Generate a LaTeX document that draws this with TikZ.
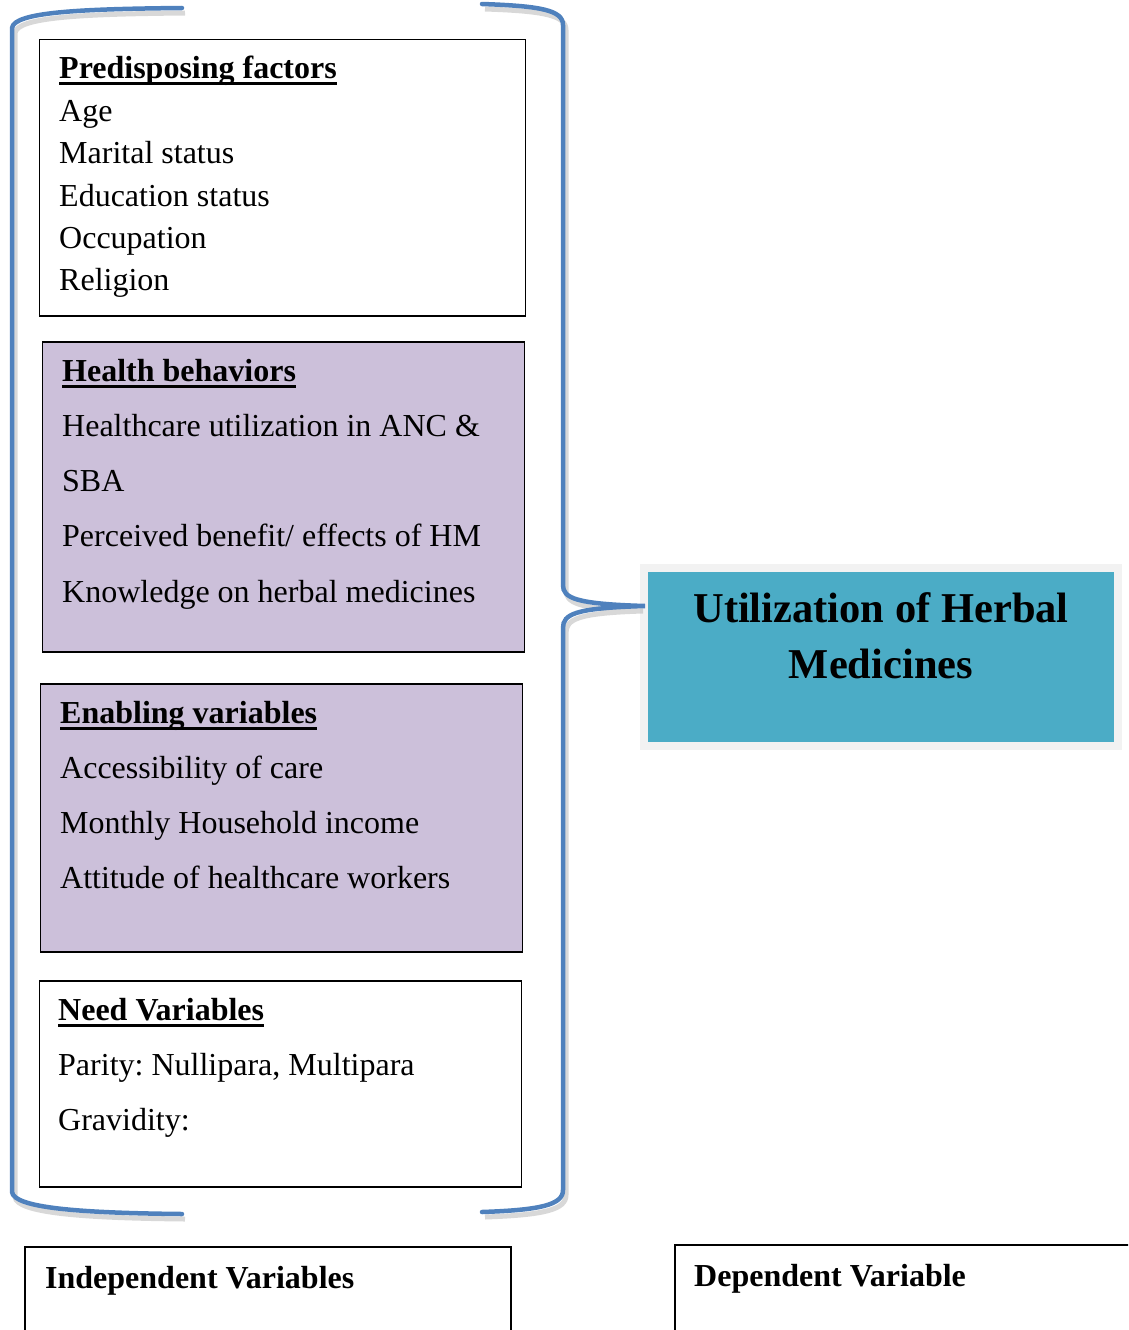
\documentclass[tikz,border=0pt]{standalone}
\usepackage{fontspec}
\setmainfont{Liberation Serif}
\frenchspacing
\definecolor{bracecol}{HTML}{4F81BD}
\definecolor{lav}{HTML}{CCC0DA}
\definecolor{teal}{HTML}{4BACC6}
\definecolor{halo}{HTML}{F2F2F2}
\newcommand\bodyf{\fontsize{32}{40}\selectfont}
\newcommand\bigf{\fontsize{42.5}{56}\selectfont\bfseries}
\begin{document}
\begin{tikzpicture}[x=1pt,y=-1pt,
  txt/.style={anchor=base west, inner sep=0, font=\bodyf},
  hdr/.style={anchor=base west, inner sep=0, font=\bodyf\bfseries},
  boxw/.style={draw=black, line width=1.5pt, anchor=north west, inner sep=0},
  brc/.style={draw=bracecol, line width=4.5pt},
  shd/.style={draw=black!30, line width=5pt, opacity=0.5},
  ul/.style={line width=3pt}]
\useasboundingbox (0,0) rectangle (1128,1330);
\clip (0,0) rectangle (1128,1330);

% boxes
\node[boxw, fill=white, minimum width=486pt, minimum height=276pt] (b1) at (38.5,39) {};
\node[boxw, fill=lav, minimum width=482pt, minimum height=310pt] (b2) at (41.5,341) {};
\node[boxw, fill=lav, minimum width=482pt, minimum height=268pt] (b3) at (39.5,683) {};
\node[boxw, fill=white, minimum width=482pt, minimum height=206pt] (b4) at (38.5,980) {};

% dependent box halo (below the brace tip)
\node[anchor=north west, fill=halo, minimum width=482pt, minimum height=186pt, inner sep=0] (halo) at (640,564) {};

% braces with shadows
\begin{scope}[shift={(3,5)}]
\draw[shd] (182,8) .. controls (80,9) and (14,12) .. (12,28) -- (12,1192) .. controls (14,1208) and (80,1213) .. (182,1214);
\draw[shd] (482,4) .. controls (540,6) and (563,10) .. (563,25) -- (563,585) .. controls (563,598) and (575,604) .. (640,606) .. controls (575,608) and (563,614) .. (563,628) -- (563,1190) .. controls (563,1205) and (540,1210) .. (482,1212);
\end{scope}
\coordinate (ltop) at (182,8);
\coordinate (lbot) at (182,1214);
\coordinate (rtop) at (482,4);
\coordinate (rbot) at (482,1212);
\coordinate (tip) at (645,606);
\draw[brc, line cap=round] (ltop) .. controls (80,9) and (14,12) .. (12,28) -- (12,1192) .. controls (14,1208) and (80,1213) .. (lbot);
\draw[brc, line cap=round] (rtop) .. controls (540,6) and (563,10) .. (563,25) -- (563,585) .. controls (563,598) and (575,604) .. (tip) .. controls (575,608) and (563,614) .. (563,628) -- (563,1190) .. controls (563,1205) and (540,1210) .. (rbot);

% dependent box
\node[anchor=north west, fill=teal, minimum width=466pt, minimum height=170pt, inner sep=0] (dep) at (648,572) {};
\node[anchor=base, inner sep=0, font=\bigf] (d1) at (881,622) {Utilization of Herbal};
\node[anchor=base, inner sep=0, font=\bigf] (d2) at (881,678) {Medicines};

% box 1 text
\node[hdr] (h1) at (59,78) {Predisposing factors};
\draw[ul] ([yshift=-5pt]h1.base west) -- ([yshift=-5pt]h1.base east);
\node[txt] (t11) at (59,121) {Age};
\node[txt] (t12) at (59,163) {Marital status};
\node[txt] (t13) at (59,206) {Education status};
\node[txt] (t14) at (59,248) {Occupation};
\node[txt] (t15) at (59,290) {Religion};

% box 2 text
\node[hdr] (h2) at (62,381) {Health behaviors};
\draw[ul] ([yshift=-5pt]h2.base west) -- ([yshift=-5pt]h2.base east);
\node[txt] (t21) at (62,436) {Healthcare utilization in ANC \&};
\node[txt] (t22) at (62,491) {SBA};
\node[txt] (t23) at (62,546) {Perceived benefit/ effects of HM};
\node[txt] (t24) at (62,602) {Knowledge on herbal medicines};

% box 3 text
\node[hdr] (h3) at (60,723) {Enabling variables};
\draw[ul] ([yshift=-5pt]h3.base west) -- ([yshift=-5pt]h3.base east);
\node[txt] (t31) at (60,778) {Accessibility of care};
\node[txt] (t32) at (60,833) {Monthly Household income};
\node[txt] (t33) at (60,888) {Attitude of healthcare workers};

% box 4 text
\node[hdr] (h4) at (58,1020) {Need Variables};
\draw[ul] ([yshift=-5pt]h4.base west) -- ([yshift=-5pt]h4.base east);
\node[txt] (t41) at (58,1075) {Parity: Nullipara, Multipara};
\node[txt] (t42) at (58,1130) {Gravidity:};

% bottom legend boxes
\draw[line width=1.2pt] (25,1345) -- (25,1247) -- (511,1247) -- (511,1345);
\draw[line width=1.2pt] (675,1345) -- (675,1245) -- (1140,1245);
\node[hdr] (iv) at (45,1288) {Independent Variables};
\node[hdr] (dv) at (694,1286) {Dependent Variable};
\end{tikzpicture}
\end{document}
